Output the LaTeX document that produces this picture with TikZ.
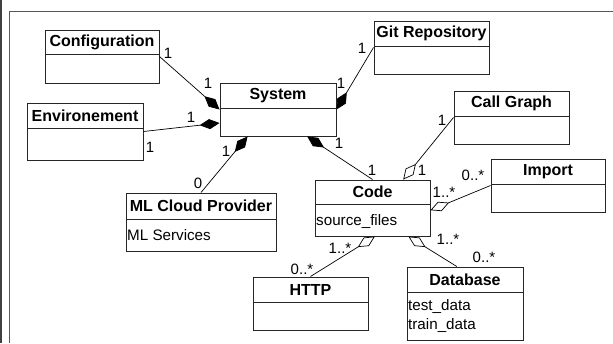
\documentclass[tikz,border=0pt]{standalone}
\usepackage{fontspec}
\setmainfont{Liberation Sans}
\usetikzlibrary{arrows.meta,calc,fit}
\newcommand\umlclass[7]{%
  \node[box, fit={(#2,#3) (#4,#5)}] (#1) {};
  \draw[box] (#2,#6) -- (#4,#6);
  \node[ttl] (#1-title) at ({(#2+#4)/2},{(#3+#6)/2}) {#7};
}
\begin{document}
\begin{tikzpicture}[x=1pt,y=-1pt,
 box/.style={draw=black!85, line width=1pt, inner sep=0pt},
 ttl/.style={font=\fontsize{16}{16}\selectfont\bfseries, inner sep=0pt},
 body/.style={font=\fontsize{15.2}{19}\selectfont, inner sep=0pt, anchor=west, align=left},
 lbl/.style={font=\fontsize{15}{15}\selectfont, inner sep=0pt},
 conn/.style={draw=black, line width=0.7pt},
 comp/.style={conn, {Diamond[length=20pt,width=10pt,fill=black]}-},
 agg/.style={conn, {Diamond[open,length=20pt,width=10pt,fill=white]}-}]
\useasboundingbox (0,0) rectangle (613,343);
\fill[white] (0,0) rectangle (613,343);
% frame
\draw[line width=2pt, black!75] (1,0) -- (1,343);
\draw[line width=1.2pt, black!65] (9.5,343) -- (9.5,11.5) -- (613,11.5);
% classes
\umlclass{cfg}{45}{30}{159}{83}{54}{Configuration}
\umlclass{env}{27}{103}{143}{160}{128}{Environement}
\umlclass{sys}{220}{83}{336}{136}{108}{System}
\umlclass{git}{374}{21}{489}{74}{46}{Git Repository}
\umlclass{cg}{454}{91}{569}{144}{116}{Call Graph}
\umlclass{imp}{491}{159}{605}{212}{184}{Import}
\umlclass{code}{315}{180}{430}{236}{204}{Code}
\umlclass{ml}{126}{193}{276}{251}{219}{ML Cloud Provider}
\umlclass{http}{253}{277}{368}{330}{302}{HTTP}
\umlclass{db}{407}{267}{523}{340}{292}{Database}
% bodies
\node[body] (code-body) at (316,221) {source\_files};
\node[body] (ml-body) at (127,235) {ML Services};
\node[body, align=left] (db-body) at (408,316) {test\_data\\train\_data};
% connectors
\draw[comp] (sys.west) -- (cfg.east);
\draw[comp] ($(sys.south west)!0.25!(sys.north west)$) -- (env.east);
\draw[comp] (sys.east) -- (git.west);
\draw[comp] ($(sys.south west)!0.24!(sys.south east)$) -- (ml.north);
\draw[comp] ($(sys.south west)!0.75!(sys.south east)$) -- (code.north);
\draw[agg] ($(code.north west)!0.765!(code.north east)$) -- (cg.west);
\draw[agg] ($(code.south east)!0.46!(code.north east)$) -- (imp.west);
\draw[agg] ($(code.south west)!0.52!(code.south east)$) -- (http.north);
\draw[agg] ($(code.south west)!0.81!(code.south east)$) -- ($(db.north west)!0.43!(db.north east)$);
% multiplicities
\node[lbl] at (168,53) {1};
\node[lbl] at (208,83) {1};
\node[lbl] at (191,117) {1};
\node[lbl] at (150,147) {1};
\node[lbl] at (362,48) {1};
\node[lbl] at (341,83) {1};
\node[lbl] at (226,151) {1};
\node[lbl] at (198,183) {0};
\node[lbl] at (339,143) {1};
\node[lbl] at (372,170) {1};
\node[lbl] at (442,120) {1};
\node[lbl] at (422,170) {1};
\node[lbl] at (473,175) {0..*};
\node[lbl] at (444,192) {1..*};
\node[lbl] at (340,248) {1..*};
\node[lbl] at (302,269) {0..*};
\node[lbl] at (448,239) {1..*};
\node[lbl] at (484,257) {0..*};
\end{tikzpicture}
\end{document}
